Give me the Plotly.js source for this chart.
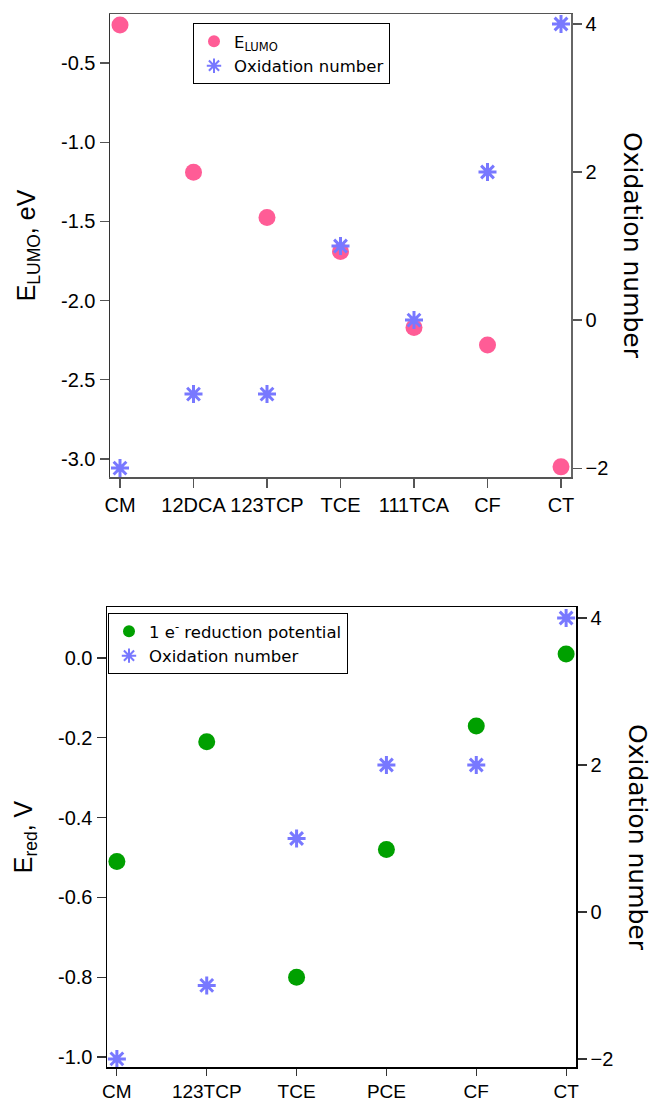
<!DOCTYPE html>
<html>
<head>
<meta charset="utf-8">
<script src="https://cdn.plot.ly/plotly-3.0.1.min.js"></script>
<style>html,body{margin:0;padding:0;background:#fff}#chart{width:655px;height:1103px}</style>
</head>
<body>
<div id="chart"></div>
<script>
// Top panel
const topCategories = ["CM", "12DCA", "123TCP", "TCE", "111TCA", "CF", "CT"];
const eLumo = [-0.26, -1.19, -1.475, -1.69, -2.17, -2.28, -3.05];
const topOxidation = [-2, -1, -1, 1, 0, 2, 4];

// Bottom panel
const bottomCategories = ["CM", "123TCP", "TCE", "PCE", "CF", "CT"];
const eRed = [-0.51, -0.21, -0.80, -0.48, -0.17, 0.01];
const bottomOxidation = [-2, -1, 1, 2, 2, 4];

const W = 655, H = 1103;
const px = v => v / W;
const py = v => 1 - v / H;

const pink = "#FF5C96";
const blue = "#7878FF";
const green = "#00A000";
const tickFont = {family: "Liberation Sans, Arial, sans-serif", size: 20, color: "#000"};
const bottomTickFont = {family: "Liberation Sans, Arial, sans-serif", size: 19, color: "#000"};
const leftTitleFont = {family: "Liberation Sans, Arial, sans-serif", size: 25, color: "#000"};
const rightTitleFont = {family: "DejaVu Sans, sans-serif", size: 25, color: "#000"};
const legFont = {family: "DejaVu Sans, sans-serif", size: 16.5, color: "#000"};

const idxTop = topCategories.map((_, i) => i);
const idxBot = bottomCategories.map((_, i) => i);

const traces = [
  {x: idxTop, y: eLumo, type: "scatter", mode: "markers", name: "E<sub>LUMO</sub>",
   xaxis: "x", yaxis: "y", legend: "legend",
   marker: {symbol: "circle", size: 17, color: pink}},
  {x: idxTop, y: topOxidation, type: "scatter", mode: "markers", name: "Oxidation number",
   xaxis: "x", yaxis: "y2", legend: "legend",
   marker: {symbol: "asterisk-open", size: 15, color: blue, line: {color: blue, width: 3}}},
  {x: idxBot, y: eRed, type: "scatter", mode: "markers", name: "1 e<sup>-</sup> reduction potential",
   xaxis: "x2", yaxis: "y3", legend: "legend2",
   marker: {symbol: "circle", size: 17, color: green}},
  {x: idxBot, y: bottomOxidation, type: "scatter", mode: "markers", name: "Oxidation number",
   xaxis: "x2", yaxis: "y4", legend: "legend2",
   marker: {symbol: "asterisk-open", size: 15, color: blue, line: {color: blue, width: 3}}}
];

const axCommon = {
  showgrid: false, zeroline: false, showline: true, linewidth: 1.5,
  ticks: "outside", ticklen: 9, tickwidth: 1.2, tickfont: tickFont
};

const layout = {
  width: W, height: H,
  margin: {l: 0, r: 0, t: 0, b: 0},
  paper_bgcolor: "#fff", plot_bgcolor: "#fff",
  showlegend: true,
  xaxis: Object.assign({}, axCommon, {
    domain: [px(110), px(571)], anchor: "y", range: [-0.136, 6.136],
    tickvals: idxTop, ticktext: topCategories, linecolor: "#555", tickcolor: "#555", mirror: true
  }),
  yaxis: Object.assign({}, axCommon, {
    domain: [py(477), py(14)], anchor: "x", range: [-3.114, -0.19],
    tickvals: [-3.0, -2.5, -2.0, -1.5, -1.0, -0.5], ticktext: ["-3.0","-2.5","-2.0","-1.5","-1.0","-0.5"],
    linecolor: "#333", tickcolor: "#555",
    title: {text: "E<sub>LUMO</sub>, eV", font: leftTitleFont, standoff: 18}
  }),
  yaxis2: Object.assign({}, axCommon, {
    overlaying: "y", side: "right", anchor: "x", range: [-2.12, 4.135],
    tickvals: [-2, 0, 2, 4], linecolor: "#666", tickcolor: "#555"
  }),
  xaxis2: Object.assign({}, axCommon, {
    domain: [px(107), px(576)], anchor: "y3", range: [-0.11, 5.11],
    tickvals: idxBot, ticktext: bottomCategories, linecolor: "#000", tickcolor: "#333", mirror: true,
    ticklen: 7, tickfont: bottomTickFont
  }),
  yaxis3: Object.assign({}, axCommon, {
    domain: [py(1067), py(607)], anchor: "x2", range: [-1.025, 0.128],
    tickvals: [-1.0, -0.8, -0.6, -0.4, -0.2, 0.0], ticktext: ["-1.0","-0.8","-0.6","-0.4","-0.2","0.0"],
    linecolor: "#000", tickcolor: "#333",
    title: {text: "E<sub>red</sub>, V", font: leftTitleFont, standoff: 18}
  }),
  yaxis4: Object.assign({}, axCommon, {
    overlaying: "y3", side: "right", anchor: "x2", range: [-2.11, 4.15],
    tickvals: [-2, 0, 2, 4], linecolor: "#000", tickcolor: "#333"
  }),
  legend: {
    x: px(193), y: py(23), xanchor: "left", yanchor: "top",
    bordercolor: "#000", borderwidth: 1, bgcolor: "#fff", font: legFont,
    tracegroupgap: 0, itemsizing: "constant"
  },
  legend2: {
    x: px(108), y: py(613), xanchor: "left", yanchor: "top",
    bordercolor: "#000", borderwidth: 1, bgcolor: "#fff", font: legFont,
    tracegroupgap: 0, itemsizing: "constant"
  },
  annotations: [
    {text: "Oxidation number", xref: "paper", yref: "paper", x: px(632), y: py(245),
     xanchor: "center", yanchor: "middle", textangle: 90, showarrow: false, font: rightTitleFont},
    {text: "Oxidation number", xref: "paper", yref: "paper", x: px(638), y: py(837),
     xanchor: "center", yanchor: "middle", textangle: 90, showarrow: false, font: rightTitleFont}
  ]
};

Plotly.newPlot("chart", traces, layout, {displayModeBar: false, staticPlot: true});
</script>
</body>
</html>
